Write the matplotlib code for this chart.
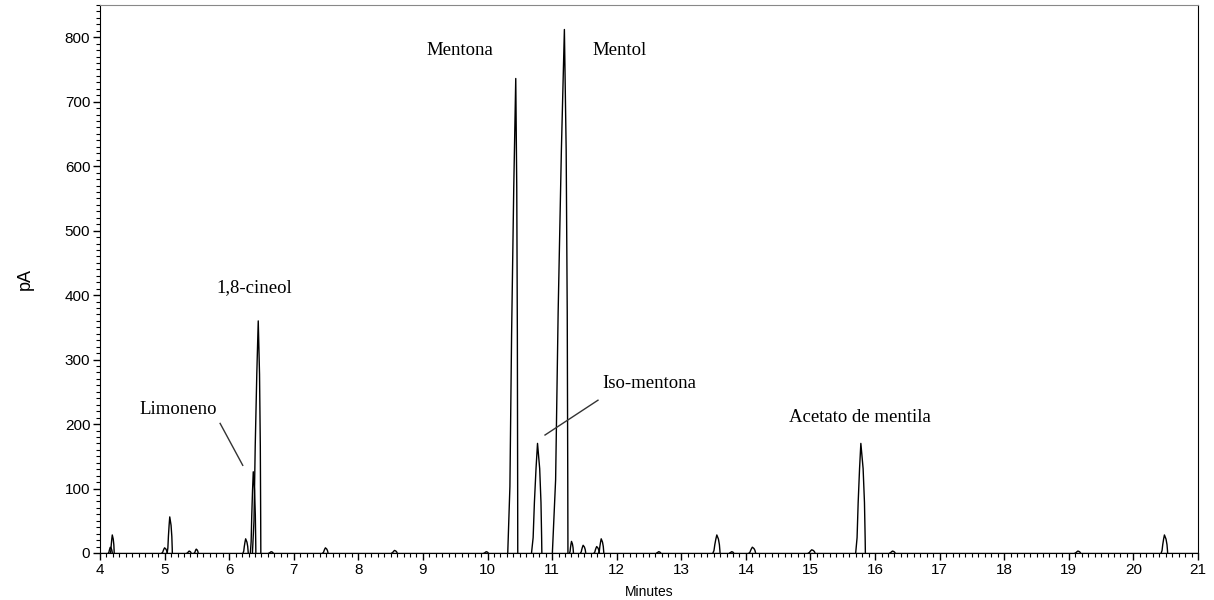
import matplotlib
matplotlib.use("Agg")
import matplotlib.pyplot as plt
from matplotlib.ticker import MultipleLocator

# Peak table
retention_times = [4.16, 4.19, 5.00, 5.08, 5.38, 5.49, 6.255, 6.373, 6.45, 6.65, 7.49, 8.56,
                   9.98, 10.437, 10.774, 11.19, 11.30, 11.48, 11.69, 11.76, 12.65, 13.55,
                   13.78, 14.10, 15.02, 15.78, 16.27, 19.14, 20.48]
peak_heights = [9, 28, 8, 56, 3, 6, 22, 126, 360, 2, 8, 4,
                2, 736, 170, 812, 18, 12, 10, 22, 2, 28,
                2, 9, 5, 170, 3, 3, 28]
left_widths = [0.03, 0.03, 0.04, 0.04, 0.03, 0.03, 0.04, 0.045, 0.09, 0.03, 0.04, 0.04,
               0.03, 0.124, 0.093, 0.186, 0.03, 0.04, 0.04, 0.04, 0.03, 0.06,
               0.03, 0.05, 0.05, 0.08, 0.04, 0.04, 0.05]
right_widths = [0.03, 0.03, 0.04, 0.04, 0.03, 0.03, 0.04, 0.04, 0.04, 0.03, 0.04, 0.04,
                0.03, 0.031, 0.067, 0.055, 0.03, 0.04, 0.04, 0.04, 0.03, 0.05,
                0.03, 0.05, 0.05, 0.07, 0.04, 0.04, 0.05]

label_texts = ["Mentona", "Mentol", "1,8-cineol", "Limoneno", "Iso-mentona", "Acetato de mentila"]
label_x = [9.57, 12.04, 6.39, 5.21, 12.50, 15.76]
label_y = [780, 780, 412, 222, 263, 210]

pointer_lines = [((5.86, 201), (6.21, 136)), ((11.71, 237), (10.89, 183))]

x_ticks = list(range(4, 22))
y_ticks = list(range(0, 900, 100))

fig = plt.figure(figsize=(12.14, 6.0), dpi=100)
ax = fig.add_axes([100 / 1214, 47 / 600, 1098 / 1214, 548 / 600])

ax.plot([4, 21], [0, 0], color="black", lw=1.0)
# generic peak profile (offset fraction of width, height fraction)
left_off = [1.0, 0.73, 0.52, 0.25, 0.0]
left_hf = [0.0, 0.14, 0.46, 0.77, 1.0]
right_off = [0.5, 0.8, 0.95, 1.0]
right_hf = [0.77, 0.46, 0.14, 0.0]
for rt, h, wl, wr in zip(retention_times, peak_heights, left_widths, right_widths):
    xs = [rt - f * wl for f in left_off] + [rt + f * wr for f in right_off]
    ys = [g * h for g in left_hf] + [g * h for g in right_hf]
    ax.plot(xs, ys, color="black", lw=1.0)

serif = ["Liberation Serif", "DejaVu Serif"]
for t, x, y in zip(label_texts, label_x, label_y):
    ax.text(x, y, t, family=serif, fontsize=13.5, ha="center", va="center")
for (p0, p1) in pointer_lines:
    ax.plot([p0[0], p1[0]], [p0[1], p1[1]], color="#333333", lw=1.0)

ax.set_xlim(4, 21)
ax.set_ylim(0, 850)
ax.set_xticks(x_ticks)
ax.set_yticks(y_ticks)
ax.xaxis.set_minor_locator(MultipleLocator(0.1))
ax.yaxis.set_minor_locator(MultipleLocator(10))
sans = ["Liberation Sans", "DejaVu Sans"]
for lab in ax.get_xticklabels() + ax.get_yticklabels():
    lab.set_family(sans)
    lab.set_fontsize(11)
ax.tick_params(which="major", direction="out", length=5, width=1.0, pad=2)
ax.tick_params(which="minor", direction="out", length=3, width=0.8)
ax.spines["top"].set_color("#888888")
ax.spines["top"].set_linewidth(0.8)
ax.spines["right"].set_color("black")
ax.spines["right"].set_linewidth(0.8)
ax.set_xlabel("Minutes", family=sans, fontsize=10, labelpad=6)
ax.set_ylabel("pA", family=sans, fontsize=13, labelpad=22)

fig.savefig("out.png", dpi=100)
